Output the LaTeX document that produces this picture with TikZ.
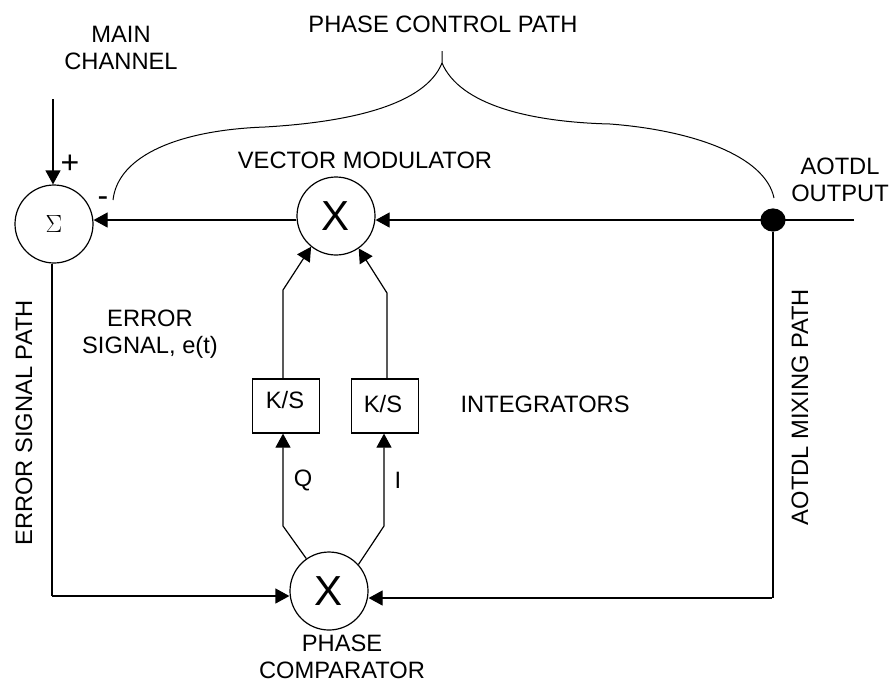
\documentclass[tikz,border=0pt]{standalone}
\usepackage{fontspec}
\setmainfont{Liberation Sans}
\usetikzlibrary{arrows.meta, positioning, shapes}

\begin{document}
\begin{tikzpicture}[x=1pt, y=-1pt, line width=1.2pt,
    mixer/.style={draw, circle, minimum size=78pt, inner sep=0pt, font=\fontsize{42}{42}\selectfont},
    integ/.style={draw, minimum width=67pt, minimum height=54pt, inner sep=0pt},
    lbl/.style={inner sep=0pt, align=center, font=\fontsize{23.7}{27}\selectfont},
    sig/.style={arrows={-Stealth[length=14pt, width=15pt, inset=0pt]}}]
    \useasboundingbox (0,0) rectangle (890,681);

    % Nodes
    \node[mixer, font=\fontsize{44}{44}\selectfont] (sum) at (54,224) {$\Sigma$};
    \node[mixer] (vector mod) at (336,216) {X};
    \node[mixer] (phase comp) at (329,591) {X};
    \node[integ] (q integ) at (286,406) {};
    \node[integ] (i integ) at (385,406) {};
    \node[lbl] (q text) at (285,400) {K/S};
    \node[lbl] (i text) at (383,404) {K/S};
    \node[draw, fill=black, ellipse, minimum width=24pt, minimum height=22pt, inner sep=0pt] (tap) at (773,220) {};

    % Bends and free ends
    \coordinate (main in) at (53,99);
    \coordinate (aotdl in) at (854,220);
    \coordinate (err corner) at (52,596);
    \coordinate (mix corner) at (772,598);
    \coordinate (q up) at (283,290);
    \coordinate (i up) at (387,293);
    \coordinate (q low) at (283,526);
    \coordinate (i low) at (384,526);
    \coordinate (brace tip) at (442,51);
    \coordinate (brace fork) at (442,63);
    \coordinate (brace left) at (113,200);
    \coordinate (brace right) at (774,198);
    \coordinate (brace midl) at (265,127);
    \coordinate (brace midr) at (610,124);

    % Connections
    \draw[sig] (main in) -- (main in |- sum.north);
    \draw[sig] (tap -| vector mod.west) -- (tap -| sum.east);
    \draw[sig] (aotdl in) -- (tap -| vector mod.east);
    \draw (sum.south -| err corner) -- (err corner);
    \draw[sig] (err corner) -- (err corner -| phase comp.west);
    \draw (tap.south) -- (tap.south |- mix corner);
    \draw[sig] (mix corner) -- (mix corner -| phase comp.east);
    \draw[sig] (q integ.north -| q up) -- (q up) -- (vector mod.231);
    \draw[sig] (i integ.north -| i up) -- (i up) -- (vector mod.-55);
    \draw[sig] (phase comp.125) -- (q low) -- (q low |- q integ.south);
    \draw[sig] (phase comp.42) -- (i low) -- (i low |- i integ.south);

    % Brace
    \draw[line width=1pt] (brace left) .. controls (118,155) and (180,130) .. (brace midl)
        .. controls (350,122) and (425,105) .. (brace fork) -- (brace tip);
    \draw[line width=1pt] (brace right) .. controls (765,155) and (690,130) .. (brace midr)
        .. controls (530,122) and (460,105) .. (brace fork);

    % Labels
    \node[lbl] (main text) at (121,48) {MAIN\\CHANNEL};
    \node[lbl, font=\fontsize{32}{32}\selectfont] (plus text) at (70,164) {+};
    \node[lbl, font=\fontsize{32}{32}\selectfont] (minus text) at (103,202) {-};
    \node[lbl] (path text) at (443,24) {PHASE CONTROL PATH};
    \node[lbl] (vector text) at (365,160) {VECTOR MODULATOR};
    \node[lbl] (aotdl text) at (840,180) {AOTDL\\OUTPUT};
    \node[lbl] (error text) at (150,334) {ERROR\\SIGNAL, e(t)};
    \node[lbl, rotate=90] (error path) at (24,423) {ERROR SIGNAL PATH};
    \node[lbl, rotate=90] (mixing path) at (800,407) {AOTDL MIXING PATH};
    \node[lbl, anchor=west] (integ text) at (460,404) {INTEGRATORS};
    \node[lbl] (q label) at (303,480) {Q};
    \node[lbl] (i label) at (398,480) {I};
    \node[lbl] (comp text) at (342,657) {PHASE\\COMPARATOR};
\end{tikzpicture}
\end{document}
